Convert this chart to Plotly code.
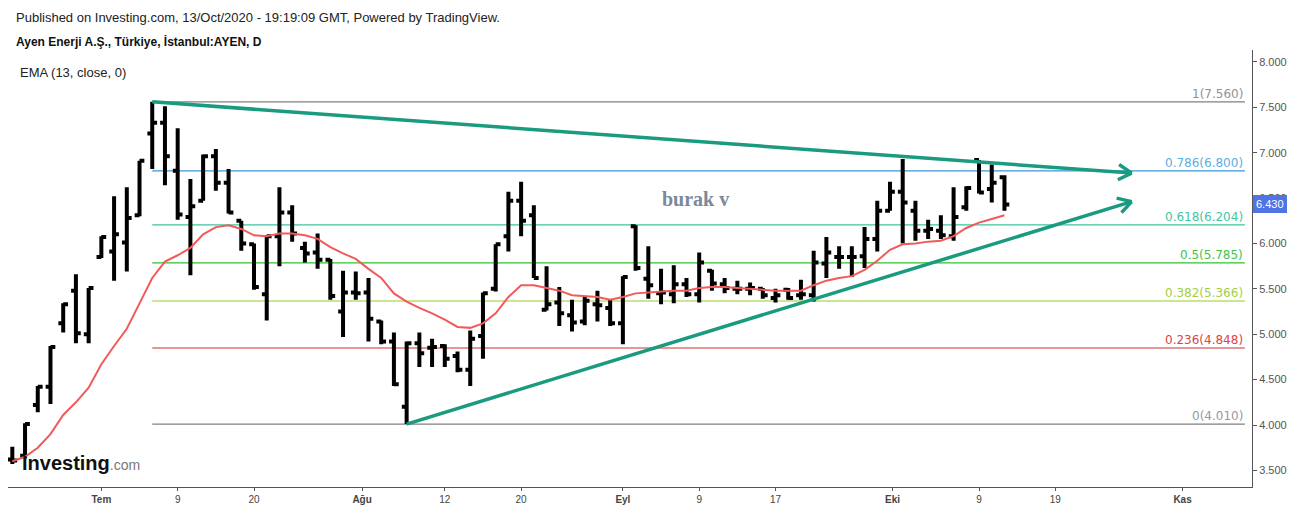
import math
import plotly.graph_objects as go

# AYEN daily bars, 22 Jun 2020 - 13 Oct 2020 (BIST trading days)
dates = [
    "2020-06-22", "2020-06-23", "2020-06-24", "2020-06-25", "2020-06-26", "2020-06-29", "2020-06-30",
    "2020-07-01", "2020-07-02", "2020-07-03", "2020-07-06", "2020-07-07", "2020-07-08", "2020-07-09",
    "2020-07-10", "2020-07-13", "2020-07-14", "2020-07-16", "2020-07-17", "2020-07-20", "2020-07-21",
    "2020-07-22", "2020-07-23", "2020-07-24", "2020-07-27", "2020-07-28", "2020-07-29", "2020-07-30",
    "2020-08-04", "2020-08-05", "2020-08-06", "2020-08-07", "2020-08-10", "2020-08-11", "2020-08-12",
    "2020-08-13", "2020-08-14", "2020-08-17", "2020-08-18", "2020-08-19", "2020-08-20", "2020-08-21",
    "2020-08-24", "2020-08-25", "2020-08-26", "2020-08-27", "2020-08-28", "2020-08-31",
    "2020-09-01", "2020-09-02", "2020-09-03", "2020-09-04", "2020-09-07", "2020-09-08", "2020-09-09",
    "2020-09-10", "2020-09-11", "2020-09-14", "2020-09-15", "2020-09-16", "2020-09-17", "2020-09-18",
    "2020-09-21", "2020-09-22", "2020-09-23", "2020-09-24", "2020-09-25", "2020-09-28", "2020-09-29",
    "2020-09-30", "2020-10-01", "2020-10-02", "2020-10-05", "2020-10-06", "2020-10-07", "2020-10-08",
    "2020-10-09", "2020-10-12", "2020-10-13",
]

open_ = [3.62, 3.66, 4.22, 4.42, 5.12, 5.48, 5.00, 5.85, 5.91, 6.01, 6.31, 7.21, 7.33, 6.80, 6.29,
         6.47, 6.96, 6.67, 6.25, 5.99, 5.44, 6.08, 6.34, 5.95, 5.90, 5.82, 5.25, 5.46, 5.46, 5.14,
         4.92, 4.20, 4.90, 4.85, 4.87, 4.76, 4.61, 4.98, 5.50, 6.08, 6.47, 6.31, 5.27, 5.35, 5.21,
         5.14, 5.33, 5.29, 5.12, 6.19, 5.61, 5.45, 5.44, 5.55, 5.44, 5.70, 5.55, 5.50, 5.50, 5.50,
         5.40, 5.49, 5.43, 5.43, 5.78, 5.85, 5.85, 5.86, 6.05, 6.36, 6.57, 6.36, 6.14, 6.14, 6.08,
         6.40, 6.92, 6.60, 6.73]
high = [3.76, 4.02, 4.43, 4.87, 5.34, 5.66, 5.51, 6.08, 6.52, 6.62, 6.91, 7.56, 7.51, 7.27, 6.71,
        6.98, 7.04, 6.82, 6.25, 6.00, 6.09, 6.62, 6.42, 6.02, 6.11, 5.83, 5.70, 5.69, 5.62, 5.15,
        5.02, 4.92, 5.02, 4.95, 4.89, 4.81, 5.04, 5.46, 5.99, 6.57, 6.68, 6.42, 5.75, 5.52, 5.38,
        5.41, 5.48, 5.38, 5.64, 6.20, 5.97, 5.72, 5.76, 5.62, 5.90, 5.71, 5.62, 5.59, 5.57, 5.51,
        5.50, 5.51, 5.60, 5.92, 6.07, 5.97, 5.97, 6.18, 6.47, 6.68, 6.93, 6.47, 6.26, 6.31, 6.62,
        6.63, 6.92, 6.87, 6.75]
low = [3.57, 3.63, 4.14, 4.23, 5.02, 4.90, 4.90, 5.84, 5.59, 5.69, 6.30, 6.82, 6.64, 6.26, 5.65,
       6.47, 6.58, 6.33, 5.92, 5.49, 5.15, 5.75, 6.02, 5.79, 5.72, 5.38, 4.97, 5.38, 4.92, 4.89,
       4.43, 4.01, 4.64, 4.64, 4.64, 4.58, 4.43, 4.73, 5.47, 5.91, 6.08, 5.62, 5.26, 5.09, 5.03,
       5.10, 5.14, 5.09, 4.89, 5.70, 5.39, 5.33, 5.34, 5.41, 5.35, 5.48, 5.45, 5.44, 5.43, 5.39,
       5.35, 5.38, 5.38, 5.36, 5.62, 5.72, 5.63, 5.73, 5.91, 6.36, 6.00, 6.03, 6.05, 6.05, 6.03,
       6.36, 6.55, 6.45, 6.36]
close = [3.61, 4.01, 4.42, 4.86, 5.33, 5.01, 5.51, 6.07, 6.10, 6.28, 6.91, 7.33, 6.96, 6.32, 6.41,
         6.96, 6.67, 6.34, 6.00, 5.52, 6.08, 6.34, 6.11, 5.89, 5.82, 5.42, 5.46, 5.45, 5.17, 4.92,
         4.45, 4.90, 4.79, 4.86, 4.73, 4.61, 4.95, 5.45, 5.99, 6.47, 6.25, 5.62, 5.33, 5.23, 5.13,
         5.37, 5.32, 5.12, 5.63, 5.73, 5.54, 5.46, 5.55, 5.44, 5.79, 5.56, 5.51, 5.50, 5.51, 5.43,
         5.43, 5.40, 5.44, 5.79, 5.90, 5.85, 5.85, 6.05, 6.36, 6.57, 6.45, 6.14, 6.16, 6.09, 6.29,
         6.61, 6.56, 6.67, 6.43]

# EMA (13, close) as plotted on the chart
ema = [3.60, 3.65, 3.75, 3.90, 4.11, 4.25, 4.41, 4.67, 4.87, 5.06, 5.34, 5.62, 5.80, 5.87, 5.95,
       6.10, 6.18, 6.20, 6.16, 6.09, 6.08, 6.11, 6.11, 6.09, 6.05, 5.96, 5.89, 5.83, 5.72, 5.62,
       5.45, 5.36, 5.29, 5.23, 5.16, 5.08, 5.07, 5.12, 5.23, 5.41, 5.54, 5.54, 5.51, 5.48, 5.43,
       5.42, 5.41, 5.38, 5.41, 5.45, 5.46, 5.47, 5.48, 5.48, 5.51, 5.52, 5.52, 5.51, 5.50, 5.49,
       5.48, 5.48, 5.48, 5.54, 5.59, 5.62, 5.64, 5.71, 5.81, 5.93, 5.99, 6.00, 6.02, 6.03, 6.08,
       6.17, 6.23, 6.27, 6.31]

# x axis labels (bar index; future bars continue past the last date)
tick_pos = [7, 13, 19, 27.5, 34, 40, 48, 54, 60, 69.2, 76, 82, 92]
tick_text = ["<b>Tem</b>", "9", "20", "<b>Ağu</b>", "12", "20", "<b>Eyl</b>", "9", "17",
             "<b>Eki</b>", "9", "19", "<b>Kas</b>"]

# Fibonacci retracement anchored on the 7 Jul high
fib_start = 11
fib_levels = [1, 0.786, 0.618, 0.5, 0.382, 0.236, 0]
fib_prices = [7.560, 6.800, 6.204, 5.785, 5.366, 4.848, 4.010]
fib_line_colors = ["#808080", "#3a97d4", "#3cc39e", "#2ec42e", "#98cc2a", "#cc3030", "#808080"]
fib_text_colors = ["#929292", "#5aaee2", "#40c8a0", "#44c444", "#a2d040", "#d84646", "#9a9a9a"]

# trend lines (drawn with arrows)
upper_x = [11, 88]
upper_y = [7.56, 6.775]
lower_x = [31, 88]
lower_y = [4.01, 6.461]

last_price = 6.430
note_x, note_y = 53.7, 6.49

X_RANGE = [-0.34, 97.46]
Y_RANGE = [3.317, 8.131]
W, H = 1298, 513
M_L, M_R, M_T, M_B = 8, 46, 50, 23
TEAL = "#1a9b80"

idx = list(range(len(dates)))

fig = go.Figure()

fig.add_trace(go.Ohlc(
    x=idx, open=open_, high=high, low=low, close=close,
    increasing=dict(line=dict(color="black", width=4)),
    decreasing=dict(line=dict(color="black", width=4)),
    tickwidth=0.38, hoverinfo="skip", showlegend=False,
))

fig.add_trace(go.Scatter(
    x=idx, y=ema, mode="lines",
    line=dict(color="#f25a5a", width=2), hoverinfo="skip", showlegend=False,
))

for tx, ty in [(upper_x, upper_y), (lower_x, lower_y)]:
    fig.add_trace(go.Scatter(
        x=tx, y=ty, mode="lines",
        line=dict(color=TEAL, width=3.5), hoverinfo="skip", showlegend=False,
    ))

shapes = []
annotations = []
for lvl, price, lc, tc in zip(fib_levels, fib_prices, fib_line_colors, fib_text_colors):
    shapes.append(dict(type="line", xref="x", yref="y", x0=fib_start, x1=96.9,
                       y0=price, y1=price, line=dict(color=lc, width=1.2), layer="below"))
    annotations.append(dict(
        xref="paper", yref="y", x=(1245 - M_L) / (W - M_L - M_R), y=price,
        xanchor="right", yanchor="bottom", yshift=-1, showarrow=False,
        text=f"{lvl:g}({price:.3f})", font=dict(family="DejaVu Sans", size=12, color=tc),
    ))

# open chevron arrow heads at the end of each trend line
sx = (W - M_L - M_R) / (X_RANGE[1] - X_RANGE[0])
sy = (H - M_T - M_B) / (Y_RANGE[1] - Y_RANGE[0])
for tx, ty in [(upper_x, upper_y), (lower_x, lower_y)]:
    back = math.atan2(-(ty[0] - ty[-1]) * sy, (tx[0] - tx[-1]) * sx)
    for da in (-30, 30):
        a = back + math.radians(da)
        annotations.append(dict(
            x=tx[-1], y=ty[-1], xref="x", yref="y", text="", showarrow=True,
            arrowhead=0, arrowwidth=3.5, arrowcolor=TEAL, standoff=0,
            ax=17 * math.cos(a), ay=17 * math.sin(a),
        ))

annotations += [
    dict(xref="paper", yref="paper", x=(14 - M_L) / 1244, y=(490 - 17) / 440,
         xanchor="left", yanchor="middle", showarrow=False,
         text="Published on Investing.com, 13/Oct/2020 - 19:19:09 GMT, Powered by TradingView.",
         font=dict(family="Liberation Sans", size=13, color="#222")),
    dict(xref="paper", yref="paper", x=(14 - M_L) / 1244, y=(490 - 41) / 440,
         xanchor="left", yanchor="middle", showarrow=False,
         text="<b>Ayen Enerji A.Ş., Türkiye, İstanbul:AYEN, D</b>",
         font=dict(family="Liberation Sans", size=12, color="#111")),
    dict(xref="paper", yref="paper", x=(18 - M_L) / 1244, y=(490 - 73) / 440,
         xanchor="left", yanchor="middle", showarrow=False,
         text="EMA (13, close, 0)",
         font=dict(family="Liberation Sans", size=13, color="#222")),
    dict(xref="x", yref="y", x=note_x, y=note_y, showarrow=False, text="<b>burak v</b>",
         font=dict(family="Liberation Serif", size=20, color="#7a8a9c")),
    dict(xref="paper", yref="paper", x=(20 - M_L) / 1244, y=(490 - 466) / 440,
         xanchor="left", yanchor="middle", showarrow=False,
         text="<b>Investing</b><span style='font-size:14px;color:#777'>.com</span>",
         font=dict(family="Liberation Sans", size=20, color="#111")),
    dict(xref="paper", yref="y", x=1, y=last_price, xanchor="left", yanchor="middle",
         xshift=1, showarrow=False, text=f"{last_price:.3f}",
         bgcolor="#4f74e3", bordercolor="#4f74e3", borderpad=2,
         font=dict(family="Liberation Sans", size=11, color="white")),
]

fig.update_layout(
    width=W, height=H,
    margin=dict(l=M_L, r=M_R, t=M_T, b=M_B),
    paper_bgcolor="white", plot_bgcolor="white",
    shapes=shapes, annotations=annotations,
    xaxis=dict(
        range=X_RANGE, rangeslider=dict(visible=False), showgrid=False, zeroline=False,
        showline=True, linecolor="#555", linewidth=1, ticks="outside", ticklen=3,
        tickcolor="#555", tickvals=tick_pos, ticktext=tick_text,
        tickfont=dict(family="Liberation Sans", size=10, color="#444"),
    ),
    yaxis=dict(
        range=Y_RANGE, side="right", showgrid=False, zeroline=False,
        showline=True, linecolor="#555", linewidth=1, ticks="outside", ticklen=4,
        tickcolor="#555", tick0=3.5, dtick=0.5, tickformat=".3f",
        tickfont=dict(family="Liberation Sans", size=11, color="#555"),
    ),
)

fig.write_html("out.html", config={"displayModeBar": False},
               post_script="document.body.style.margin='0px';")
